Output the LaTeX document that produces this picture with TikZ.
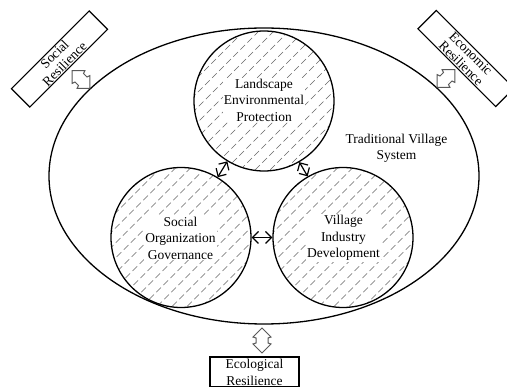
\documentclass[tikz,border=0pt]{standalone}
\usepackage{fontspec}
\setmainfont{Liberation Serif}
\usetikzlibrary{shapes.geometric,arrows.meta}
\tikzset{
  txt/.style={font=\fontsize{13.5}{16.5}\selectfont, align=center, inner sep=1pt},
  hatchline/.style={gray!80!black, line width=0.7pt, dash pattern=on 6.5pt off 3.5pt},
  sphere/.style={circle, draw, line width=1.3pt, minimum size=140pt, inner sep=0pt,
    path picture={\foreach \k in {-7,...,7}{
      \draw[hatchline] ([shift={(\k*15-90,90)}]path picture bounding box.center) -- ++(180,-180);}}},
  labelbg/.style={txt, fill=white},
  rbox/.style={draw, line width=1.2pt, minimum width=110pt, minimum height=26pt,
    inner sep=0pt, align=center, font=\fontsize{13.5}{14}\selectfont},
  link/.style={{Straight Barb[length=6pt,width=12pt]}-{Straight Barb[length=6pt,width=12pt]},
    line width=1.2pt},
  dblarrow/.pic={\draw[draw=black!65, line width=1pt, fill=white]
    (-12.5,0) -- (-3.5,9) -- (-2.5,6) -- (2.5,6) -- (3.5,9) -- (12.5,0)
    -- (3.5,-9) -- (2.5,-6) -- (-2.5,-6) -- (-3.5,-9) -- cycle;}
}
\begin{document}
\begin{tikzpicture}[x=1pt,y=-1pt]
\useasboundingbox (0,0) rectangle (507,387);

% the village system and its three subsystems
\node[ellipse, draw, line width=1.3pt, minimum width=430pt, minimum height=296pt, inner sep=0pt]
  (system) at (264,176) {};
\node[txt] (systemlabel) at (396.5,148.5) {Traditional Village\\System};

\node[sphere] (top) at (264,101) {};
\node[sphere] (left) at (181,237.5) {};
\node[sphere] (right) at (343,237.5) {};

\node[labelbg] (toplabel) at (264,100) {Landscape\\Environmental\\Protection};
\node[labelbg] (leftlabel) at (180.5,238) {Social\\Organization\\Governance};
\node[labelbg] (rightlabel) at (343.5,238) {Village\\Industry\\Development};

\draw[link] (top) -- (left);
\draw[link] (top) -- (right);
\draw[link] (left) -- (right);

% resilience boxes
\node[rbox, rotate=45] (social) at (59.5,59) {Social\\Resilience};
\node[rbox, rotate=-45] (economic) at (466,58.5) {Economic\\Resilience};
\node[draw, line width=1.2pt, minimum width=89pt, minimum height=30pt, inner sep=0pt,
  align=center, font=\fontsize{13.5}{17}\selectfont] (ecological) at (254.5,372) {Ecological\\Resilience};

% two-way block arrows between boxes and system
\pic[rotate=-45] at (81,79.5) {dblarrow};
\pic[rotate=45] at (446,78.5) {dblarrow};
\pic[rotate=90] at (262,340.5) {dblarrow};
\end{tikzpicture}
\end{document}
